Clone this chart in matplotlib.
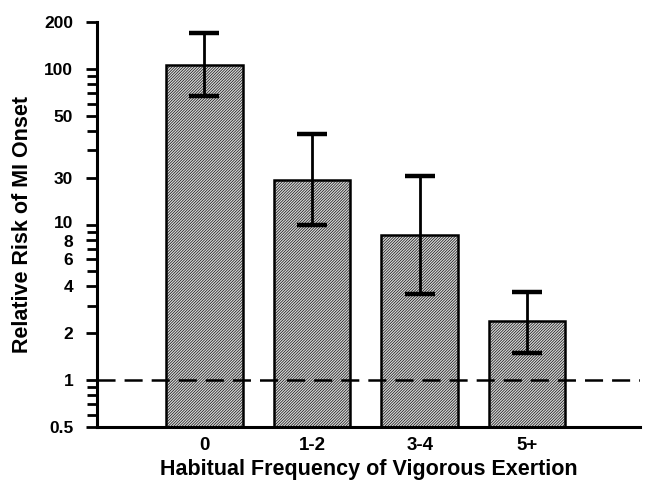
import matplotlib
matplotlib.use("Agg")
import matplotlib.pyplot as plt
from matplotlib.ticker import FixedLocator, FixedFormatter, NullFormatter
from matplotlib.transforms import ScaledTranslation

plt.rcParams['font.family'] = ['Liberation Sans', 'DejaVu Sans']
plt.rcParams['font.weight'] = 'bold'
plt.rcParams['hatch.linewidth'] = 0.45
plt.rcParams['hatch.color'] = '#6a6a6a'
plt.rcParams['lines.scale_dashes'] = False

categories = ["0", "1-2", "3-4", "5+"]
risk = [107, 19.4, 8.6, 2.4]
ci_low = [67, 9.9, 3.6, 1.5]
ci_high = [171, 38.1, 20.5, 3.7]

major_ticks = [0.5, 1, 2, 4, 6, 8, 10, 20, 50, 100, 200]
major_labels = ["0.5", "1", "2", "4", "6", "8", "10", "30", "50", "100", "200"]
minor_ticks = [0.6, 0.7, 0.8, 0.9, 3, 5, 7, 9, 30, 40, 60, 70, 80, 90]

fig = plt.figure(figsize=(6.46, 4.84), dpi=100)
ax = fig.add_axes([0.150, 0.118, 0.841, 0.836])

x = list(range(len(categories)))
yerr = [[r - l for r, l in zip(risk, ci_low)], [h - r for r, h in zip(risk, ci_high)]]

ax.bar(x, risk, width=0.71, bottom=0, color='#d6d6d6', edgecolor='black',
       linewidth=1.8, hatch='////////////', zorder=2)
ax.errorbar(x, risk, yerr=yerr, fmt='none', ecolor='black', elinewidth=2.0,
            capsize=11, capthick=3.2, zorder=3)

ax.axhline(1, color='black', linewidth=1.8, dashes=[13, 6.5], zorder=4)

ax.set_yscale('log')
ax.set_ylim(0.5, 200)
ax.set_xlim(-1.0, 4.05)

ax.yaxis.set_major_locator(FixedLocator(major_ticks))
ax.yaxis.set_major_formatter(FixedFormatter(major_labels))
ax.yaxis.set_minor_locator(FixedLocator(minor_ticks))
ax.yaxis.set_minor_formatter(NullFormatter())

ax.set_xticks(x)
ax.set_xticklabels(categories)

ax.spines['top'].set_visible(False)
ax.spines['right'].set_visible(False)
ax.spines['left'].set_linewidth(2.2)
ax.spines['bottom'].set_linewidth(2.2)

ax.tick_params(axis='y', which='major', direction='out', length=8, width=2.0,
               pad=9, labelsize=12.5)
ax.tick_params(axis='y', which='minor', direction='out', length=7, width=2.0)
ax.tick_params(axis='x', which='major', length=0, pad=7, labelsize=13.5)

ax.set_xlabel('Habitual Frequency of Vigorous Exertion', fontsize=15.5,
              fontweight='bold', labelpad=4)
ax.set_ylabel('Relative Risk of MI Onset', fontsize=15.5, fontweight='bold',
              labelpad=8)

# nudge the crowded "10" / "8" labels apart slightly
fig.canvas.draw()
shifts = {"10": 3.0, "8": -1.5}
for tick in ax.yaxis.get_major_ticks():
    lab = tick.label1
    dy = shifts.get(lab.get_text())
    if dy:
        lab.set_transform(lab.get_transform() +
                          ScaledTranslation(0, dy / 100, fig.dpi_scale_trans))

fig.savefig('out.png', dpi=100)
